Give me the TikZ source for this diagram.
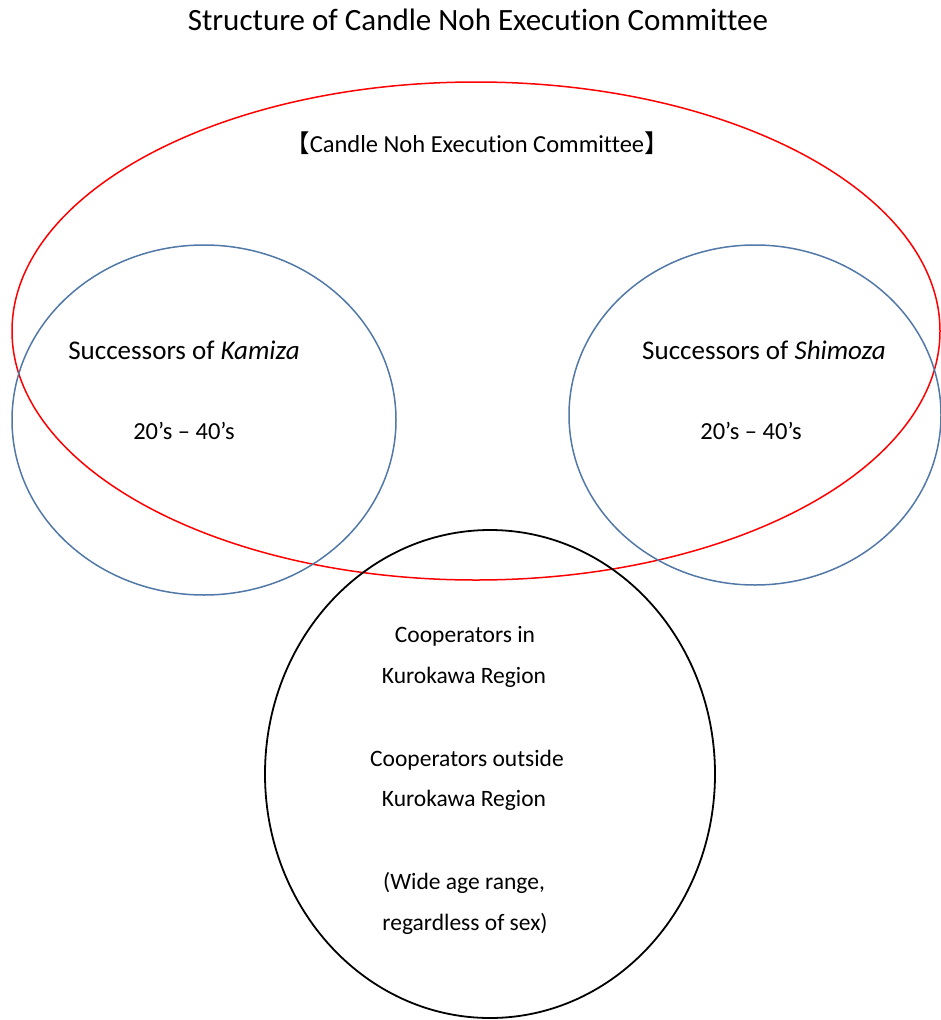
\documentclass[tikz,border=0pt]{standalone}
\usepackage{fontspec}
\setmainfont{Carlito}[RawFeature={-liga}]
\newfontfamily\cjk{Noto Sans CJK JP}
\begin{document}
\begin{tikzpicture}[x=1pt,y=-1pt,
  label/.style={inner sep=0pt,anchor=center,font=\fontsize{23.5}{28}\selectfont},
  namelabel/.style={label,font=\fontsize{27}{32}\selectfont},
  agelabel/.style={label,font=\fontsize{24.5}{29}\selectfont},
  committee/.style={draw={rgb,255:red,255;green,0;blue,0},line width=1.5pt},
  successor/.style={draw={rgb,255:red,82;green,120;blue,168},line width=1.5pt},
  cooperator/.style={draw=black,line width=1.8pt}]
\useasboundingbox (0,0) rectangle (941,1020);

% groups
\draw[committee] (476,331) ellipse [x radius=464pt, y radius=249pt];
\draw[successor] (204,420) ellipse [x radius=192pt, y radius=175pt];
\draw[successor] (755,415) ellipse [x radius=186pt, y radius=170pt];
\draw[cooperator] (490,774) ellipse [x radius=225pt, y radius=244pt];

% title
\node[label,font=\fontsize{31}{36}\selectfont] (title) at (478,20) {Structure of Candle Noh Execution Committee};
\node[label,font=\fontsize{24.5}{29}\selectfont] (committee) at (477,143) {{\cjk 【}Candle Noh Execution Committee{\cjk 】}};

% successors
\node[namelabel] (kamiza) at (184,350) {Successors of \textit{Kamiza}};
\node[agelabel] (kamizaage) at (184,431) {20’s – 40’s};
\node[namelabel] (shimoza) at (764,350) {Successors of \textit{Shimoza}};
\node[agelabel] (shimozaage) at (751,431) {20’s – 40’s};

% cooperators
\node[label] (coopin1) at (465,636) {Cooperators in};
\node[label] (coopin2) at (464,677) {Kurokawa Region};
\node[label] (coopout1) at (467,760) {Cooperators outside};
\node[label] (coopout2) at (464,800) {Kurokawa Region};
\node[label] (range1) at (464,883) {(Wide age range,};
\node[label] (range2) at (465,924) {regardless of sex)};
\end{tikzpicture}
\end{document}
